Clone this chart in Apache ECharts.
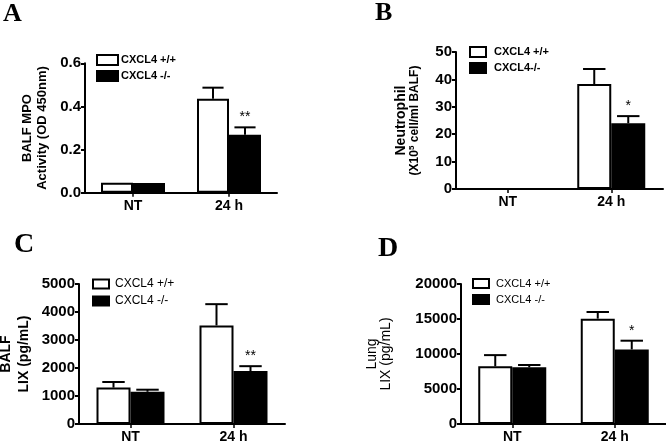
<!DOCTYPE html>
<html><head><meta charset="utf-8">
<script src="https://cdn.jsdelivr.net/npm/echarts@6/dist/echarts.min.js"></script>
<style>html,body{margin:0;padding:0;background:#fff}#c{width:666px;height:444px}</style>
</head><body><div id="c"></div>
<script>
const cats = ['NT', '24 h'];
const legendWT = 'CXCL4 +/+';
const legendKO = 'CXCL4 -/-';
const legendKOb = 'CXCL4-/-';
// Panel A: BALF MPO
const aWT = [0.046, 0.436], aKO = [0.045, 0.269];
const aWTerr = [0, 0.051], aKOerr = [0, 0.034];
const aSig = ['', '**'];
// Panel B: Neutrophil
const bWT = [0, 38.3], bKO = [0, 24.0];
const bWTerr = [0, 5.5], bKOerr = [0, 2.6];
const bSig = ['', '*'];
// Panel C: BALF LIX
const cWT = [1300, 3520], cKO = [1150, 1890];
const cWTerr = [200, 760], cKOerr = [75, 175];
const cSig = ['', '**'];
// Panel D: Lung LIX
const dWT = [8240, 15050], dKO = [8100, 10650];
const dWTerr = [1600, 950], dKOerr = [330, 1250];
const dSig = ['', '*'];
const yTicksA = [0, 0.6, 0.2], yTicksB = [0, 50, 10], yTicksC = [0, 5000, 1000], yTicksD = [0, 20000, 5000];

const SANS = 'Liberation Sans, Arial, sans-serif';
const SERIF = 'Liberation Serif, Times New Roman, serif';

const panels = [
  {wt:aWT, ko:aKO, wte:aWTerr, koe:aKOerr, sig:aSig, ticks:yTicksA, koName:legendKO, bw:32, fmt:v=>v.toFixed(1),
   grid:{left:85, top:63.3, width:192, height:129.4},
   name:'BALF MPO\nActivity (OD 450nm)', nameGap:35, nameStyle:{fontSize:13, fontWeight:'bold', lineHeight:15},
   legend:{left:96, top:54, itemWidth:21, itemHeight:10, itemGap:4, fs:11, fw:'bold', tp:-2},
   title:{text:'A', left:3, top:1, fs:26}},
  {wt:bWT, ko:bKO, wte:bWTerr, koe:bKOerr, sig:bSig, ticks:yTicksB, koName:legendKOb, bw:34, fmt:v=>String(v),
   grid:{left:456, top:52, width:207, height:137},
   name:'{a|Neutrophil}\n{b|(X10}{sup|5}{b| cell/ml BALF)}', nameGap:34,
   nameStyle:{rich:{a:{fontSize:14,fontWeight:'bold',fontFamily:SANS,lineHeight:14},b:{fontSize:12,fontWeight:'bold',fontFamily:SANS,lineHeight:14},sup:{fontSize:8,fontWeight:'bold',fontFamily:SANS,verticalAlign:'top',lineHeight:14}}},
   legend:{left:469, top:46, itemWidth:16, itemHeight:10, itemGap:4, fs:11, fw:'bold', tp:3},
   title:{text:'B', left:375, top:0, fs:26}},
  {wt:cWT, ko:cKO, wte:cWTerr, koe:cKOerr, sig:cSig, ticks:yTicksC, koName:legendKO, bw:34, fmt:v=>String(v),
   grid:{left:79, top:284, width:206, height:140},
   name:'BALF\nLIX (pg/mL)', nameGap:46, nameStyle:{fontSize:14, fontWeight:'bold', lineHeight:18},
   legend:{left:92, top:278, itemWidth:16, itemHeight:9, itemGap:5, fs:12, fw:'normal', tp:1},
   title:{text:'C', left:14, top:231, fs:28}},
  {wt:dWT, ko:dKO, wte:dWTerr, koe:dKOerr, sig:dSig, ticks:yTicksD, koName:legendKO, bw:34, fmt:v=>String(v),
   grid:{left:461, top:284, width:205, height:140},
   name:'Lung\nLIX (pg/mL)', nameGap:68, nameStyle:{fontSize:14, fontWeight:'normal', lineHeight:14},
   legend:{left:472, top:278, itemWidth:16, itemHeight:9, itemGap:5, fs:11, fw:'normal', tp:2},
   title:{text:'D', left:378, top:235, fs:28}}
];

const grid = [], xAxis = [], yAxis = [], series = [], legend = [], title = [];
panels.forEach((p, i) => {
  grid.push(Object.assign({containLabel:false, outerBoundsMode:'none'}, p.grid));
  title.push({text:p.title.text, left:p.title.left, top:p.title.top, padding:0,
    textStyle:{fontFamily:SERIF, fontWeight:'bold', fontSize:p.title.fs, color:'#000'}});
  xAxis.push({type:'category', gridIndex:i, data:cats,
    axisLine:{lineStyle:{color:'#000', width:2}},
    axisTick:{show:true, alignWithLabel:true, length:4, lineStyle:{color:'#000', width:1.5}},
    axisLabel:{margin:6, color:'#000', fontFamily:SANS, fontWeight:'bold', fontSize:14}});
  yAxis.push({type:'value', gridIndex:i, min:p.ticks[0], max:p.ticks[1], interval:p.ticks[2],
    splitLine:{show:false},
    axisLine:{show:true, lineStyle:{color:'#000', width:2}},
    axisTick:{show:true, length:4, lineStyle:{color:'#000', width:2}},
    axisLabel:{margin:4, color:'#000', fontFamily:SANS, fontWeight:'bold', fontSize:15, formatter:p.fmt},
    name:p.name, nameLocation:'middle', nameGap:p.nameGap,
    nameTextStyle:Object.assign({color:'#000', fontFamily:SANS}, p.nameStyle)});
  legend.push({orient:'vertical', left:p.legend.left, top:p.legend.top, padding:0,
    itemWidth:p.legend.itemWidth, itemHeight:p.legend.itemHeight, itemGap:p.legend.itemGap,
    selectedMode:false, icon:'rect',
    textStyle:{fontFamily:SANS, fontSize:p.legend.fs, fontWeight:p.legend.fw, color:'#000', padding:[0,0,0,p.legend.tp]},
    data:[{name:legendWT, itemStyle:{color:'#fff', borderColor:'#000', borderWidth:2}},
          {name:p.koName, itemStyle:{color:'#000', borderColor:'#000', borderWidth:2}}]});
  series.push({type:'bar', name:legendWT, xAxisIndex:i, yAxisIndex:i, data:p.wt, barWidth:p.bw, barGap:'0%',
    itemStyle:{color:'#fff', borderColor:'#000', borderWidth:2}, silent:true, animation:false});
  series.push({type:'bar', name:p.koName, xAxisIndex:i, yAxisIndex:i, data:p.ko, barWidth:p.bw, barGap:'0%',
    itemStyle:{color:'#000', borderColor:'#000', borderWidth:2}, silent:true, animation:false});
  [[p.wt, p.wte, -1, null], [p.ko, p.koe, 1, p.sig]].forEach(([vals, errs, sign, sig]) => {
    series.push({type:'custom', xAxisIndex:i, yAxisIndex:i, z:5, silent:true, animation:false,
      data: vals.map((v, k) => [k, v, errs[k]]),
      renderItem:(params, api) => {
        const k = api.value(0), v = api.value(1), e = api.value(2);
        const base = api.coord([k, v]);
        const top = api.coord([k, v + e]);
        const cx = base[0] + sign * p.bw / 2;
        const cap = p.bw * 0.33;
        const children = [];
        if (e > 0) {
          children.push({type:'line', shape:{x1:cx, y1:base[1], x2:cx, y2:top[1]}, style:{stroke:'#000', lineWidth:2}});
          children.push({type:'line', shape:{x1:cx-cap, y1:top[1], x2:cx+cap, y2:top[1]}, style:{stroke:'#000', lineWidth:2}});
        }
        if (sig && sig[params.dataIndex]) {
          children.push({type:'text', x:cx, y:top[1]-10,
            style:{text:sig[params.dataIndex], align:'center', verticalAlign:'middle', fill:'#000',
              fontSize:14, fontFamily:SANS}});
        }
        return {type:'group', children};
      }});
  });
});

const chart = echarts.init(document.getElementById('c'), null, {renderer:'canvas'});
chart.setOption({animation:false, backgroundColor:'#fff', title, grid, xAxis, yAxis, legend, series});
</script>
</body></html>
